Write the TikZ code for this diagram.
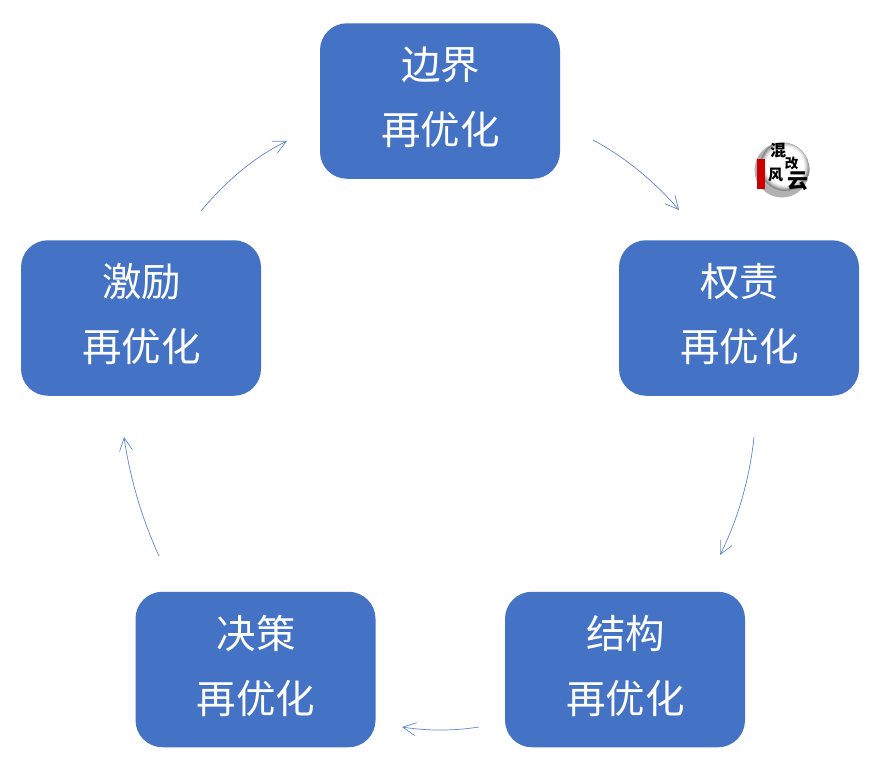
\documentclass[tikz,border=0pt]{standalone}
\usepackage{fontspec}
\newfontfamily\cjk{Noto Sans CJK SC}
\definecolor{boxblue}{HTML}{4472C4}
\tikzset{
  cyclebox/.style={draw=none,fill=boxblue,rounded corners=27pt,minimum width=240pt,minimum height=155.5pt,inner sep=0pt},
  boxtext/.style={text=white,inner sep=0pt,font=\cjk\fontsize{39.5}{39.5}\selectfont},
  flow/.style={draw=boxblue!85,line width=0.7pt,-{Straight Barb[length=13pt,width=13pt,line width=0.7pt]}},
  logotext/.style={inner sep=0pt,text=black,font=\cjk\bfseries\fontsize{#1}{#1}\selectfont}
}
\usetikzlibrary{arrows.meta}
\begin{document}
\begin{tikzpicture}[x=1pt,y=-1pt]
\useasboundingbox (0,0) rectangle (874,761);
\fill[white] (0,0) rectangle (874,761);
\node[cyclebox] (a) at (440,101) {};
\node[cyclebox] (b) at (739,318) {};
\node[cyclebox] (c) at (625,669.5) {};
\node[cyclebox] (d) at (255.5,669.5) {};
\node[cyclebox] (e) at (141,318) {};
\foreach \n/\t in {a/边界,b/权责,c/结构,d/决策,e/激励}{
  \node[boxtext] (\n t) at ([xshift=0.5pt,yshift=36pt]\n.center) {\t};
  \node[boxtext] (\n u) at ([xshift=0.5pt,yshift=-29pt]\n.center) {再优化};
}
\coordinate (s1) at (593,140); \coordinate (e1) at (679,210);
\coordinate (s2) at (754,437); \coordinate (e2) at (720,555);
\coordinate (s3) at (479,727); \coordinate (e3) at (402,727);
\coordinate (s4) at (159,556); \coordinate (e4) at (124,437);
\coordinate (s5) at (201,211); \coordinate (e5) at (287,141);
\draw[flow] (s1) .. controls (625,157) and (655,182) .. (e1);
\draw[flow] (s2) .. controls (750,476) and (739,517) .. (e2);
\draw[flow] (s3) .. controls (453,731) and (428,731) .. (e3);
\draw[flow] (s4) .. controls (142,519) and (130,478) .. (e4);
\draw[flow] (s5) .. controls (225,182) and (254,157) .. (e5);
% logo
\begin{scope}
\clip (782,170) circle (27.5pt);
\fill[gray!60] (782,170) circle (27.5pt);
\foreach \r/\g in {25/48,24/38,23/28,22/18,21/10,20/4,19/0}{
  \fill[black!\g!white] (785,166) circle (\r pt);
}
\end{scope}
\fill[red!80!black] (757,159) rectangle (765,189);
\node[logotext=16] (l1) at (778,150.5) {混};
\node[logotext=13.5] (l2) at (791.5,163.5) {改};
\node[logotext=15] (l3) at (775.5,175) {风};
\node[logotext=21] (l4) at (798,181) {云};
\end{tikzpicture}
\end{document}
